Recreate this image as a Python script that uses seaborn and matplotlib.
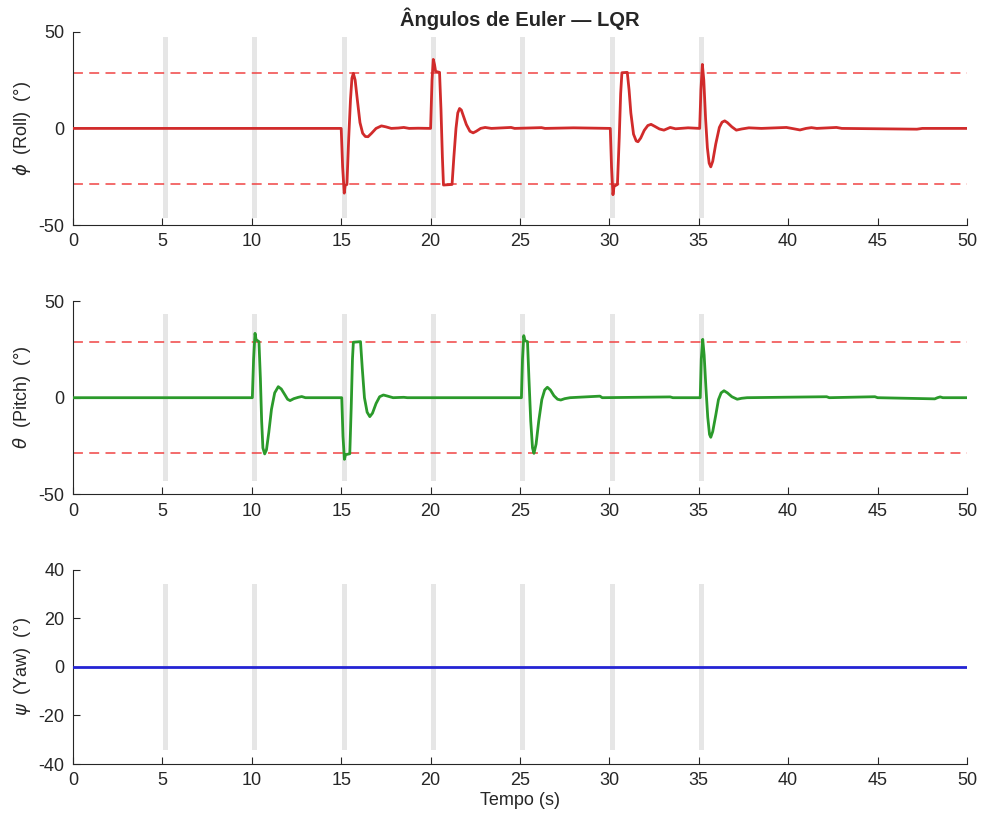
import numpy as np
import pandas as pd
import matplotlib
matplotlib.use('Agg')
import matplotlib.pyplot as plt
import seaborn as sns

# roll response (time s, angle deg)
roll_t = [0, 15.0, 15.08, 15.17, 15.22, 15.32, 15.42, 15.52, 15.6, 15.68, 15.78, 15.9, 16.05, 16.2,
          16.35, 16.5, 16.7, 16.95, 17.25, 17.5, 17.8, 18.2, 18.5, 18.8, 19.3, 20.0,
          20.08, 20.15, 20.22, 20.28, 20.5, 20.58, 20.66, 20.72, 21.2, 21.3, 21.42, 21.52, 21.62,
          21.72, 21.85, 22.0, 22.2, 22.38, 22.55, 22.8, 23.05, 23.4, 24.5, 24.7, 26.2, 26.4, 28.0, 30.05,
          30.12, 30.2, 30.26, 30.45, 30.55, 30.63, 30.7, 31.0, 31.1, 31.2, 31.35, 31.5, 31.6, 31.75,
          31.95, 32.15, 32.33, 32.55, 32.8, 33.05, 33.4, 33.7, 34.4, 35.05,
          35.12, 35.2, 35.28, 35.38, 35.48, 35.58, 35.67, 35.78, 35.95, 36.15, 36.3, 36.45, 36.6,
          36.85, 37.1, 37.4, 37.8, 38.5, 39.9, 40.2, 40.66, 41.0, 41.3, 41.6, 42.7, 43.0, 47.2, 47.5, 50]
roll_deg = [0, 0, -20, -33.5, -29.5, -29, -5, 15, 26, 28.5, 25, 15, 3, -2.5,
            -4.2, -4.3, -2.5, 0, 1.3, 0.8, 0, 0.2, 0.5, 0, 0.1, 0,
            25, 35.7, 33, 29.5, 29, 10, -15, -29.3, -29, -15, 0, 8, 10.3,
            9.5, 6, 2, -1.5, -2.3, -1.5, 0, 0.5, 0, 0.5, 0, 0.4, 0, 0.3, 0,
            -20, -34.3, -30, -29, -5, 18, 28.8, 29, 20, 8, -3, -6.5, -6.9, -5,
            -1, 1.5, 2.1, 1, -0.3, -0.9, 0.5, -0.2, 0.3, 0,
            20, 33.1, 25, 5, -10, -18, -19.9, -17, -8, 0.5, 3.2, 3.9, 3,
            0.8, -0.9, -0.3, 0.3, 0, 0.5, 0, -0.8, 0, 0.4, 0, 0.5, 0, -0.4, 0, 0]

# pitch response
pitch_t = [0, 10.03, 10.1, 10.18, 10.24, 10.4, 10.48, 10.55, 10.62, 10.72, 10.82, 10.95, 11.1,
           11.28, 11.48, 11.65, 11.85, 12.0, 12.14, 12.35, 12.6, 12.79, 13.0, 15.03,
           15.1, 15.18, 15.24, 15.48, 15.56, 15.63, 15.68, 16.08, 16.18, 16.3, 16.45, 16.6, 16.75,
           16.95, 17.15, 17.36, 17.6, 17.9, 18.5, 18.7, 25.08,
           25.14, 25.21, 25.28, 25.42, 25.5, 25.6, 25.7, 25.78, 25.9, 26.05, 26.22, 26.38, 26.53,
           26.7, 26.9, 27.1, 27.28, 27.5, 27.8, 29.47, 29.6, 33.4, 33.55, 35.08,
           35.14, 35.22, 35.3, 35.4, 35.5, 35.6, 35.67, 35.78, 35.95, 36.1, 36.25, 36.41, 36.6,
           36.85, 37.15, 37.4, 37.7, 42.15, 42.3, 44.85, 45.0, 48.2, 48.35, 48.5, 48.65, 50]
pitch_deg = [0, 0, 20, 33.3, 30, 29, 10, -12, -26, -29.1, -27, -18, -6,
             2.5, 5.7, 4.5, 1.5, -0.8, -1.5, -0.5, 0.2, 0.6, 0, 0,
             -20, -31.9, -29.5, -29, -5, 20, 28.7, 29, 15, 0, -7.5, -9.8, -8,
             -3, 0.5, 1.4, 0.8, 0, 0.2, 0, 0,
             20, 32.1, 29.5, 29, 10, -12, -26, -28.8, -24, -12, -1, 4, 5.4,
             4, 1.0, -0.8, -1.2, -0.5, 0, 0.8, 0, 0.4, 0, 0,
             20, 30.2, 22, 5, -10, -19, -20.5, -17.5, -9, -1, 2.5, 3.6, 2.5,
             0.5, -0.8, -0.3, 0, 0.5, 0, 0.5, 0, -0.6, 0, 0.4, 0, 0]

# yaw stays at zero
yaw_t = [0, 50]
yaw_deg = [0, 0]

# disturbance windows (s) and attitude limit (deg)
dist_start = [5.02, 10.02, 15.02, 20.02, 25.02, 30.02, 35.02]
dist_end = [5.30, 10.30, 15.30, 20.30, 25.30, 30.30, 35.30]
limit_deg = 28.65

sns.set_style('ticks')
plt.rcParams['font.family'] = ['Liberation Sans', 'DejaVu Sans']
plt.rcParams['mathtext.fontset'] = 'dejavusans'
plt.rcParams['axes.unicode_minus'] = False

fig = plt.figure(figsize=(9.84, 8.21), dpi=100)
left, width = 0.0742, 0.9085
ax_roll = fig.add_axes([left, 0.7259, width, 0.2354])
ax_pitch = fig.add_axes([left, 0.3979, width, 0.2354])
ax_yaw = fig.add_axes([left, 0.0694, width, 0.2367])

panels = [
    (ax_roll, roll_t, roll_deg, '#d12b2b', r'$\phi$  (Roll)  (°)', (-50, 50), [-50, 0, 50], (0.038, 0.972), True),
    (ax_pitch, pitch_t, pitch_deg, '#2b9a2b', r'$\theta$  (Pitch)  (°)', (-50, 50), [-50, 0, 50], (0.069, 0.931), True),
    (ax_yaw, yaw_t, yaw_deg, '#2424d4', r'$\psi$  (Yaw)  (°)', (-40, 40), [-40, -20, 0, 20, 40], (0.072, 0.928), False),
]

ink = '#262626'
for ax, t, v, col, lab, ylim, yt, span, lim in panels:
    for a, b in zip(dist_start, dist_end):
        ax.axvspan(a, b, ymin=span[0], ymax=span[1], color='#e6e6e6', lw=0, zorder=0)
    if lim:
        for y in (limit_deg, -limit_deg):
            ax.axhline(y, color='#f04545', alpha=0.85, lw=1.3, ls=(0, (5.5, 3.5)), zorder=1)
    sns.lineplot(x=t, y=v, ax=ax, color=col, lw=2.0, estimator=None, sort=False, zorder=3)
    ax.set_xlim(0, 50)
    ax.set_ylim(*ylim)
    ax.set_xticks(range(0, 51, 5))
    ax.set_yticks(yt)
    ax.set_ylabel(lab, fontsize=13, color=ink, labelpad=4)
    ax.set_xlabel('')
    ax.tick_params(direction='in', length=5, width=0.8, labelsize=13, colors=ink, pad=6)
    for s in ('left', 'bottom'):
        ax.spines[s].set_color(ink)
        ax.spines[s].set_linewidth(0.8)
    sns.despine(ax=ax)

ax_yaw.set_xlabel('Tempo (s)', fontsize=13, color=ink, labelpad=2)
# title sits centred over the axes, not the figure
fig.text(left + width / 2, 1 - 19 / 821, 'Ângulos de Euler — LQR', ha='center', va='center',
         fontsize=14.5, fontweight='bold', color=ink)

fig.savefig('out.png', dpi=100)
